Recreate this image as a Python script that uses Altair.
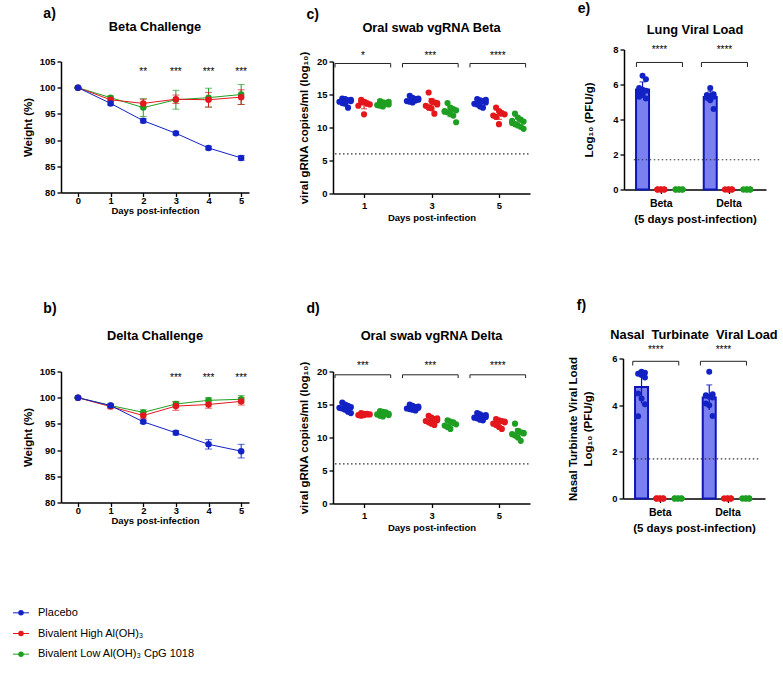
import altair as alt
import pandas as pd

FONT = "Liberation Sans"

# ---------------- data ----------------
groups = ["Placebo", "Bivalent High Al(OH)₃", "Bivalent Low Al(OH)₃ CpG 1018"]
group_colors = ["#1222c4", "#e3171c", "#1f9f22"]
bar_fills = ["#7b80f0", "#e3171c", "#1f9f22"]
bar_strokes = ["#0d16b5", "#e3171c", "#1f9f22"]

days = [0, 1, 2, 3, 4, 5]

beta_w_placebo = [100.0, 97.0, 93.7, 91.3, 88.5, 86.6]
beta_w_placebo_err = [0.1, 0.3, 0.4, 0.3, 0.35, 0.45]
beta_w_high = [100.0, 97.7, 97.0, 97.8, 97.7, 98.2]
beta_w_high_err = [0.1, 0.3, 0.8, 0.8, 1.4, 1.4]
beta_w_low = [100.0, 98.1, 96.2, 97.7, 98.1, 98.7]
beta_w_low_err = [0.1, 0.3, 1.7, 1.8, 1.8, 1.9]
beta_w_star_days = [2, 3, 4, 5]
beta_w_star_text = ["**", "***", "***", "***"]

delta_w_placebo = [100.0, 98.5, 95.4, 93.3, 91.1, 89.8]
delta_w_placebo_err = [0.1, 0.3, 0.3, 0.4, 0.9, 1.3]
delta_w_high = [100.0, 98.3, 96.6, 98.4, 98.7, 99.3]
delta_w_high_err = [0.1, 0.4, 0.6, 0.8, 0.7, 0.7]
delta_w_low = [100.0, 98.5, 97.2, 98.8, 99.5, 99.7]
delta_w_low_err = [0.1, 0.3, 0.5, 0.5, 0.5, 0.7]
delta_w_star_days = [3, 4, 5]
delta_w_star_text = ["***", "***", "***"]

swab_days = [1, 3, 5]
# oral swab Beta: [group][day] -> values
swab_beta_placebo = [[14.4, 14.3, 14.1, 14.0, 13.9, 13.7, 13.6, 13.0, 14.2],
                     [14.8, 14.5, 14.3, 14.2, 14.0, 13.9, 13.8, 14.1, 14.4],
                     [14.3, 14.1, 14.0, 13.8, 13.6, 13.5, 13.2, 13.0, 14.2]]
swab_beta_high = [[14.2, 13.9, 13.7, 13.5, 13.3, 13.8, 12.0, 13.6],
                  [15.3, 14.0, 13.8, 13.5, 13.3, 13.0, 12.9, 12.1, 13.7],
                  [13.0, 12.5, 12.2, 12.0, 11.8, 11.6, 10.5, 12.1]]
swab_beta_low = [[14.0, 13.8, 13.6, 13.5, 13.4, 13.3, 13.2, 13.7, 13.9],
                 [13.7, 13.0, 12.8, 12.6, 12.4, 12.3, 12.1, 11.8, 10.8, 12.5],
                 [12.1, 11.5, 11.2, 10.9, 10.7, 10.5, 10.3, 10.1, 9.8, 11.0]]
swab_beta_stars = ["*", "***", "****"]

swab_delta_placebo = [[15.3, 15.0, 14.8, 14.6, 14.5, 14.4, 14.2, 13.9, 13.7],
                      [15.0, 14.8, 14.6, 14.5, 14.4, 14.3, 14.2, 14.1, 14.7],
                      [13.7, 13.5, 13.3, 13.1, 13.0, 12.9, 12.7, 12.6, 13.4]]
swab_delta_high = [[13.7, 13.6, 13.5, 13.5, 13.4, 13.3, 13.4, 13.6],
                   [13.3, 13.0, 12.8, 12.6, 12.5, 12.3, 12.1, 11.9, 12.9],
                   [12.8, 12.6, 12.5, 12.3, 12.1, 11.9, 11.6, 11.3, 12.4]]
swab_delta_low = [[14.0, 13.9, 13.7, 13.6, 13.5, 13.3, 13.2, 13.8, 13.4],
                  [12.6, 12.4, 12.2, 12.0, 11.8, 11.6, 11.3, 12.3],
                  [12.1, 11.0, 10.8, 10.6, 10.5, 10.3, 10.0, 9.5, 10.7]]
swab_delta_stars = ["***", "***", "****"]
swab_lod = 6.0

variants = ["Beta", "Delta"]
lung_placebo = [[6.5, 6.3, 5.8, 5.7, 5.65, 5.55, 5.4, 5.2, 5.3],
                [5.8, 5.45, 5.4, 5.35, 5.3, 5.25, 5.1, 4.6]]
lung_high = [[0, 0, 0, 0, 0, 0, 0, 0, 0], [0, 0, 0, 0, 0, 0, 0, 0]]
lung_low = [[0, 0, 0, 0, 0, 0, 0, 0, 0], [0, 0, 0, 0, 0, 0, 0, 0]]
lung_stars = ["****", "****"]

nasal_placebo = [[5.43, 5.39, 5.35, 5.29, 5.19, 4.5, 4.29, 4.04, 3.53],
                 [5.43, 4.47, 4.43, 4.36, 4.33, 4.07, 4.0, 3.54]]
nasal_high = [[0, 0, 0, 0, 0, 0, 0, 0, 0], [0, 0, 0, 0, 0, 0, 0, 0]]
nasal_low = [[0, 0, 0, 0, 0, 0, 0, 0, 0], [0, 0, 0, 0, 0, 0, 0, 0]]
nasal_stars = ["****", "****"]
pfu_lod = 1.7


# ---------------- helpers ----------------
def ax(**kw):
    d = dict(labelFont=FONT, labelFontSize=9.4, labelFontWeight="bold", labelColor="black",
             titleFont=FONT, titleFontSize=11.5, titleFontWeight="bold", titleColor="black",
             domainColor="black", domainWidth=1.5, tickColor="black", tickWidth=1.3,
             tickSize=4, grid=False, labelPadding=2, titlePadding=7)
    d.update(kw)
    return alt.Axis(**d)


def ptitle(text, offset):
    return alt.TitleParams(text, font=FONT, fontSize=12.8, fontWeight="bold", color="black",
                           anchor="middle", frame="group", offset=offset)


def wrap(panel, letter, dx, offset):
    return alt.vconcat(panel, spacing=0, title=alt.TitleParams(
        letter, font=FONT, fontSize=14, fontWeight="bold", color="black",
        anchor="start", dx=dx, offset=offset))


def brackets(xscale, yscale, xa, ya, starts, ends, y_top, y_low, y_star, stars):
    bdf = pd.DataFrame({"x1": starts, "x2": ends, "y": [y_top] * len(starts),
                        "y2": [y_low] * len(starts),
                        "xc": [(s + e) / 2 for s, e in zip(starts, ends)],
                        "ys": [y_star] * len(starts), "t": stars})
    b = alt.Chart(bdf)
    h = b.mark_rule(color="#222", strokeWidth=1).encode(
        x=alt.X("x1:Q", scale=xscale, axis=xa), x2="x2:Q",
        y=alt.Y("y:Q", scale=yscale, axis=ya))
    l = b.mark_rule(color="#222", strokeWidth=1).encode(
        x=alt.X("x1:Q", scale=xscale, axis=xa),
        y=alt.Y("y:Q", scale=yscale, axis=ya), y2="y2:Q")
    r = b.mark_rule(color="#222", strokeWidth=1).encode(
        x=alt.X("x2:Q", scale=xscale, axis=xa),
        y=alt.Y("y:Q", scale=yscale, axis=ya), y2="y2:Q")
    s = b.mark_text(font=FONT, fontSize=10, color="black", baseline="middle").encode(
        x=alt.X("xc:Q", scale=xscale, axis=xa),
        y=alt.Y("ys:Q", scale=yscale, axis=ya), text="t:N")
    return [h, l, r, s]


def weight_panel(title, series, errs, star_days, star_text, star_y, toff):
    rows = []
    for gi in (2, 1, 0):
        for d, m, e in zip(days, series[gi], errs[gi]):
            rows.append({"grp": groups[gi], "col": group_colors[gi], "day": d, "mean": m, "err": e})
    df = pd.DataFrame(rows)
    xs = alt.Scale(domain=[-0.52, 5.24], nice=False, zero=False)
    ys = alt.Scale(domain=[80, 105], nice=False, zero=False)
    xa = ax(values=days, format="d", title="Days post-infection", titleFontSize=9.5,
            titlePadding=1, labelPadding=0)
    ya = ax(values=[80, 85, 90, 95, 100, 105], title="Weight (%)", titlePadding=6)
    C = alt.Color("col:N", scale=None)
    base = alt.Chart(df).transform_calculate(lo="datum.mean - datum.err", hi="datum.mean + datum.err")
    line = base.mark_line(strokeWidth=1).encode(
        x=alt.X("day:Q", scale=xs, axis=xa), y=alt.Y("mean:Q", scale=ys, axis=ya),
        color=C, detail="grp:N")
    err = base.mark_rule(strokeWidth=1).encode(
        x=alt.X("day:Q", scale=xs, axis=xa), y=alt.Y("lo:Q", scale=ys, axis=ya), y2="hi:Q", color=C)
    cap1 = base.mark_tick(orient="horizontal", size=7, thickness=1).encode(
        x=alt.X("day:Q", scale=xs, axis=xa), y=alt.Y("lo:Q", scale=ys, axis=ya), color=C)
    cap2 = base.mark_tick(orient="horizontal", size=7, thickness=1).encode(
        x=alt.X("day:Q", scale=xs, axis=xa), y=alt.Y("hi:Q", scale=ys, axis=ya), color=C)
    pts = base.mark_circle(size=42, opacity=1).encode(
        x=alt.X("day:Q", scale=xs, axis=xa), y=alt.Y("mean:Q", scale=ys, axis=ya), color=C)
    sdf = pd.DataFrame({"day": star_days, "t": star_text, "y": [star_y] * len(star_days)})
    stars = alt.Chart(sdf).mark_text(font=FONT, fontSize=10, color="black", baseline="middle").encode(
        x=alt.X("day:Q", scale=xs, axis=xa), y=alt.Y("y:Q", scale=ys, axis=ya), text="t:N")
    return alt.layer(line, err, cap1, cap2, pts, stars).properties(
        width=188, height=131, title=ptitle(title, toff))


swab_offsets = [-0.56, 0.0, 0.56]


def swab_panel(title, vals, stars, y_br, y_br2, y_star, toff):
    rows = []
    for di, d in enumerate(swab_days):
        for gi in range(3):
            for v in vals[gi][di]:
                rows.append({"day": d, "col": group_colors[gi], "val": v,
                             "pos": d + swab_offsets[gi]})
    df = pd.DataFrame(rows)
    xs = alt.Scale(domain=[0.08, 5.92], nice=False, zero=False)
    ys = alt.Scale(domain=[0, 20], nice=False, zero=False)
    xa = ax(values=swab_days, format="d", title="Days post-infection", titleFontSize=9.5,
            titlePadding=3, labelPadding=4)
    ya = ax(values=[0, 5, 10, 15, 20], title="viral gRNA copies/ml (log₁₀)")
    C = alt.Color("col:N", scale=None)
    pts = alt.Chart(df).transform_window(
        idx="row_number()", groupby=["pos"]
    ).transform_calculate(
        xj="datum.pos + ((datum.idx % 5) - 2) * 0.085"
    ).mark_circle(size=38, opacity=1).encode(
        x=alt.X("xj:Q", scale=xs, axis=xa), y=alt.Y("val:Q", scale=ys, axis=ya), color=C)
    agg = alt.Chart(df).transform_aggregate(
        m="mean(val)", s="stdev(val)", groupby=["pos", "col"]
    ).transform_calculate(lo="datum.m - datum.s", hi="datum.m + datum.s")
    eb = agg.mark_rule(strokeWidth=1.2).encode(
        x=alt.X("pos:Q", scale=xs, axis=xa), y=alt.Y("lo:Q", scale=ys, axis=ya), y2="hi:Q", color=C)
    c1 = agg.mark_tick(orient="horizontal", size=6, thickness=1.2).encode(
        x=alt.X("pos:Q", scale=xs, axis=xa), y=alt.Y("lo:Q", scale=ys, axis=ya), color=C)
    c2 = agg.mark_tick(orient="horizontal", size=6, thickness=1.2).encode(
        x=alt.X("pos:Q", scale=xs, axis=xa), y=alt.Y("hi:Q", scale=ys, axis=ya), color=C)
    mn = agg.mark_tick(orient="horizontal", size=12, thickness=1.2).encode(
        x=alt.X("pos:Q", scale=xs, axis=xa), y=alt.Y("m:Q", scale=ys, axis=ya), color=C)
    lod_df = pd.DataFrame({"x1": [0.14], "x2": [5.92], "y": [swab_lod]})
    lod = alt.Chart(lod_df).mark_rule(color="#333", strokeWidth=1.2, strokeDash=[1.5, 2.5]).encode(
        x=alt.X("x1:Q", scale=xs, axis=xa), x2="x2:Q", y=alt.Y("y:Q", scale=ys, axis=ya))
    br = brackets(xs, ys, xa, ya, [d - 0.86 for d in swab_days], [d + 0.79 for d in swab_days],
                  y_br, y_br2, y_star, stars)
    return alt.layer(lod, pts, eb, c1, c2, mn, *br).properties(
        width=197, height=132, title=ptitle(title, toff))


load_offsets = [-0.27, 0.0, 0.27]


def load_panel(title, placebo, high, low, ymax, yticks, ytitle, br_starts, br_ends,
               y_br, y_br2, y_star, stars, toff, height, above, tpad):
    rows = []
    for vi, v in enumerate(variants):
        for gi, data in enumerate((placebo, high, low)):
            for val in data[vi]:
                rows.append({"pos": vi + 1 + load_offsets[gi], "col": group_colors[gi],
                             "fill": bar_fills[gi], "stroke": bar_strokes[gi], "val": val})
    df = pd.DataFrame(rows)
    xs = alt.Scale(domain=[0.53, 2.48], nice=False, zero=False)
    # axis reaches `above` px higher than the row's common plot top
    ys = alt.Scale(domain=[0, ymax], nice=False, zero=False, range=[height, -above])
    lab = " : ".join([f"datum.value == {i + 1} ? '{v}'" for i, v in enumerate(variants)]) + " : ''"
    xa = ax(values=[1, 2], labelExpr=lab, labelFontSize=10.5, labelPadding=5,
            title="(5 days post-infection)", titleFontSize=11.5, titlePadding=4)
    ya = ax(values=yticks, title=ytitle, titleLineHeight=15, titlePadding=tpad)
    bars = alt.Chart(df).mark_bar(size=13, strokeWidth=2).encode(
        x=alt.X("pos:Q", scale=xs, axis=xa), y=alt.Y("mean(val):Q", scale=ys, axis=ya),
        fill=alt.Fill("fill:N", scale=None), stroke=alt.Stroke("stroke:N", scale=None))
    agg = alt.Chart(df).transform_aggregate(
        m="mean(val)", s="stdev(val)", groupby=["pos", "stroke"]
    ).transform_calculate(lo="datum.m - datum.s", hi="datum.m + datum.s")
    eb = agg.mark_rule(strokeWidth=1.2).encode(
        x=alt.X("pos:Q", scale=xs, axis=xa), y=alt.Y("lo:Q", scale=ys, axis=ya), y2="hi:Q",
        color=alt.Color("stroke:N", scale=None))
    cap = agg.mark_tick(orient="horizontal", size=6, thickness=1.2).encode(
        x=alt.X("pos:Q", scale=xs, axis=xa), y=alt.Y("hi:Q", scale=ys, axis=ya),
        color=alt.Color("stroke:N", scale=None))
    pts = alt.Chart(df).transform_window(
        idx="row_number()", groupby=["pos"]
    ).transform_calculate(
        xj="datum.pos + ((datum.idx % 3) - 1) * 0.05"
    ).mark_circle(size=36, opacity=1).encode(
        x=alt.X("xj:Q", scale=xs, axis=xa), y=alt.Y("val:Q", scale=ys, axis=ya),
        color=alt.Color("col:N", scale=None))
    lod_df = pd.DataFrame({"x1": [0.60], "x2": [2.48], "y": [pfu_lod]})
    lod = alt.Chart(lod_df).mark_rule(color="#333", strokeWidth=1.2, strokeDash=[1.5, 2.5]).encode(
        x=alt.X("x1:Q", scale=xs, axis=xa), x2="x2:Q", y=alt.Y("y:Q", scale=ys, axis=ya))
    br = brackets(xs, ys, xa, ya, br_starts, br_ends, y_br, y_br2, y_star, stars)
    return alt.layer(bars, lod, eb, cap, pts, *br).properties(
        width=142, height=height, title=ptitle(title, toff))


# ---------------- panels ----------------
pa = weight_panel("Beta Challenge", [beta_w_placebo, beta_w_high, beta_w_low],
                  [beta_w_placebo_err, beta_w_high_err, beta_w_low_err],
                  beta_w_star_days, beta_w_star_text, 103.0, 23)
pb = weight_panel("Delta Challenge", [delta_w_placebo, delta_w_high, delta_w_low],
                  [delta_w_placebo_err, delta_w_high_err, delta_w_low_err],
                  delta_w_star_days, delta_w_star_text, 103.7, 24)
pc = swab_panel("Oral swab vgRNA Beta", [swab_beta_placebo, swab_beta_high, swab_beta_low],
                swab_beta_stars, 19.7, 19.1, 20.9, 16)
pd_ = swab_panel("Oral swab vgRNA Delta", [swab_delta_placebo, swab_delta_high, swab_delta_low],
                 swab_delta_stars, 19.5, 19.0, 20.8, 18)
pe = load_panel("Lung Viral Load", lung_placebo, lung_high, lung_low, 8, [0, 2, 4, 6, 8],
                "Log₁₀ (PFU/g)", [0.64, 1.60], [1.32, 2.28], 7.26, 7.0, 7.95, lung_stars,
                8, 128, 12, 18)
pf = load_panel("Nasal \u00a0Turbinate \u00a0Viral Load", nasal_placebo, nasal_high, nasal_low, 6,
                [0, 2, 4, 6], ["Nasal Turbinate Viral Load", "Log₁₀ (PFU/g)"],
                [0.60, 1.60], [1.28, 2.28], 5.88, 5.7, 6.35, nasal_stars, 3.5, 127, 13, 18)

# ---------------- legend ----------------
leg_df = pd.DataFrame({"grp": groups, "col": group_colors})
LY = alt.Y("grp:N", sort=groups, axis=None)
lbase = alt.Chart(leg_df)
leg_line = lbase.mark_rule(strokeWidth=1).encode(
    y=LY, x=alt.value(-48), x2=alt.value(-32), color=alt.Color("col:N", scale=None))
leg_pt = lbase.mark_circle(size=30, opacity=1).encode(
    y=LY, x=alt.value(-40), color=alt.Color("col:N", scale=None))
leg_txt = lbase.mark_text(align="left", baseline="middle", font=FONT, fontSize=11, color="black").encode(
    y=LY, x=alt.value(-23), text="grp:N")
legend = alt.layer(leg_line, leg_pt, leg_txt).properties(width=150, height=62)

row1 = alt.hconcat(
    alt.hconcat(wrap(pa, "a)", 21, 0), wrap(pc, "c)", 8, 0), spacing=49),
    wrap(pe, "e)", -6, 7.5), spacing=46)
row2 = alt.hconcat(
    alt.hconcat(wrap(pb, "b)", 21, 14), wrap(pd_, "d)", 8, 14), spacing=49),
    wrap(pf, "f)", 9, 16.5), spacing=36)

panels = alt.vconcat(row1, row2, spacing=74)
chart = alt.vconcat(panels, legend, spacing=69).properties(
    padding={"left": 12, "top": 1.5, "right": 0, "bottom": 0}
).configure(font=FONT, background="white").configure_view(stroke=None)

chart.save("out.html", embed_options={"renderer": "svg", "actions": False})
